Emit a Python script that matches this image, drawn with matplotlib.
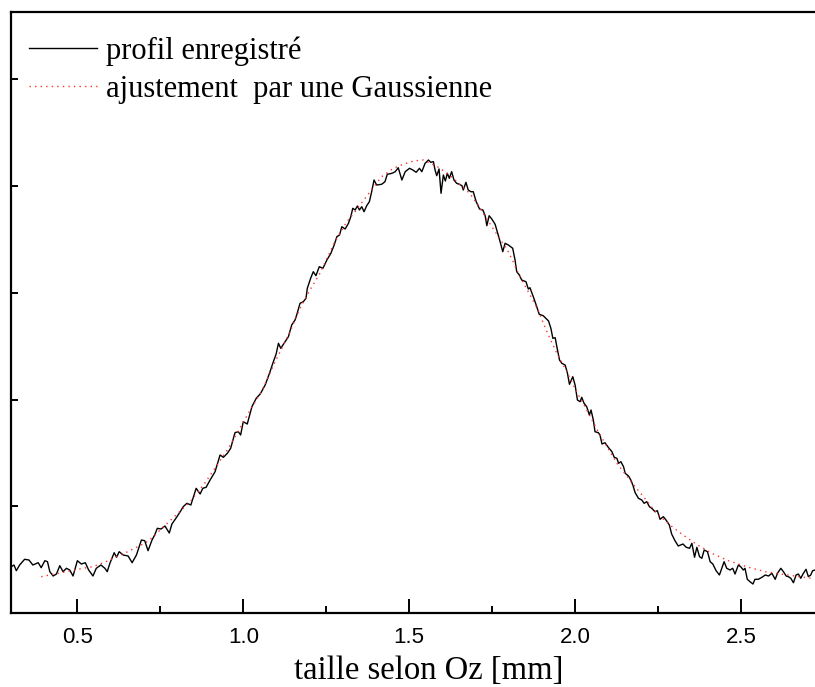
import matplotlib
matplotlib.use("Agg")
import matplotlib.pyplot as plt
from matplotlib.ticker import MultipleLocator

# ---- data: recorded profile (x in mm, intensity in arbitrary units) ----
profile_x = [
    0.301, 0.309, 0.316, 0.326, 0.341, 0.354, 0.366, 0.382, 0.391, 0.402, 0.410, 0.417, 0.427, 0.437,
    0.447, 0.457, 0.467, 0.477, 0.487, 0.500, 0.512, 0.524, 0.534, 0.547, 0.557, 0.571, 0.583, 0.590,
    0.598, 0.611, 0.618, 0.626, 0.638, 0.653, 0.665, 0.678, 0.693, 0.703, 0.713, 0.725, 0.733, 0.741,
    0.752, 0.764, 0.777, 0.785, 0.797, 0.810, 0.819, 0.830, 0.842, 0.850, 0.858, 0.870, 0.878, 0.888,
    0.900, 0.915, 0.930, 0.940, 0.952, 0.962, 0.975, 0.985, 0.992, 1.000, 1.012, 1.026, 1.039, 1.051,
    1.066, 1.079, 1.089, 1.099, 1.106, 1.113, 1.126, 1.136, 1.146, 1.156, 1.161, 1.171, 1.181, 1.189,
    1.193, 1.203, 1.211, 1.219, 1.229, 1.240, 1.252, 1.264, 1.274, 1.282, 1.290, 1.297, 1.307, 1.317,
    1.324, 1.330, 1.337, 1.344, 1.350, 1.357, 1.364, 1.372, 1.380, 1.387, 1.394, 1.402, 1.417, 1.427,
    1.434, 1.448, 1.458, 1.467, 1.478, 1.488, 1.501, 1.511, 1.521, 1.531, 1.538, 1.548, 1.558, 1.565,
    1.573, 1.578, 1.583, 1.590, 1.596, 1.603, 1.609, 1.615, 1.621, 1.628, 1.635, 1.643, 1.651, 1.659,
    1.663, 1.671, 1.678, 1.686, 1.693, 1.702, 1.712, 1.722, 1.729, 1.734, 1.741, 1.749, 1.759, 1.766,
    1.774, 1.782, 1.789, 1.799, 1.812, 1.819, 1.824, 1.832, 1.839, 1.852, 1.859, 1.864, 1.874, 1.882,
    1.892, 1.904, 1.920, 1.927, 1.933, 1.940, 1.945, 1.953, 1.960, 1.970, 1.977, 1.983, 1.993, 2.000,
    2.007, 2.015, 2.020, 2.027, 2.035, 2.043, 2.048, 2.055, 2.060, 2.070, 2.075, 2.081, 2.090, 2.100,
    2.111, 2.118, 2.126, 2.131, 2.138, 2.146, 2.151, 2.161, 2.168, 2.174, 2.181, 2.191, 2.201, 2.208,
    2.216, 2.224, 2.231, 2.241, 2.248, 2.256, 2.266, 2.274, 2.284, 2.291, 2.301, 2.311, 2.325, 2.335,
    2.345, 2.352, 2.360, 2.367, 2.375, 2.382, 2.389, 2.399, 2.407, 2.415, 2.425, 2.435, 2.442, 2.449,
    2.457, 2.467, 2.475, 2.482, 2.492, 2.499, 2.507, 2.512, 2.519, 2.527, 2.536, 2.542, 2.552, 2.563,
    2.573, 2.583, 2.593, 2.603, 2.610, 2.620, 2.628, 2.636, 2.643, 2.650, 2.658, 2.666, 2.673, 2.680,
    2.688, 2.696, 2.703, 2.710, 2.716, 2.723,
]
profile_y = [
    46.3, 48.0, 42.3, 48.0, 53.7, 53.0, 48.0, 50.3, 45.3, 52.3, 51.3, 41.3, 37.0, 39.0,
    47.3, 41.3, 44.7, 43.0, 37.0, 52.3, 49.0, 50.3, 43.0, 37.0, 44.7, 48.0, 44.7, 41.3,
    49.7, 60.3, 55.7, 61.3, 58.0, 57.0, 50.3, 58.0, 73.0, 72.3, 62.3, 73.0, 78.0, 84.7,
    84.0, 87.0, 80.0, 89.0, 94.7, 101.3, 106.3, 109.7, 108.0, 116.3, 124.7, 119.0, 124.7, 125.7,
    133.0, 141.3, 158.0, 155.7, 159.7, 164.7, 180.3, 181.3, 178.0, 191.3, 189.0, 206.3, 214.7, 219.0,
    228.0, 239.7, 249.7, 259.0, 269.7, 264.7, 271.3, 276.3, 288.0, 293.0, 298.0, 309.7, 311.3, 314.7,
    324.7, 334.7, 341.3, 337.3, 346.3, 344.7, 353.0, 359.7, 368.0, 376.3, 378.0, 386.3, 384.0, 389.7,
    396.3, 404.7, 403.0, 407.0, 403.0, 406.3, 401.3, 407.3, 411.3, 421.3, 433.0, 428.0, 428.7, 431.3,
    438.7, 439.7, 441.3, 445.3, 433.0, 441.3, 444.7, 443.0, 440.7, 444.7, 441.3, 449.7, 453.0, 450.7,
    451.3, 443.0, 437.3, 444.0, 419.7, 438.0, 432.0, 439.7, 434.7, 441.3, 433.0, 429.7, 428.7, 427.3,
    423.0, 430.7, 423.0, 421.3, 421.3, 411.3, 404.0, 403.0, 397.3, 387.3, 397.3, 394.0, 388.7, 380.7,
    371.3, 361.3, 369.7, 368.0, 364.7, 353.0, 341.3, 338.0, 333.0, 331.3, 324.0, 325.3, 316.3, 308.7,
    298.7, 297.3, 292.0, 284.7, 274.7, 275.3, 266.3, 253.0, 249.7, 248.0, 239.7, 228.7, 236.3, 228.0,
    213.0, 211.3, 215.7, 209.7, 206.3, 198.0, 203.0, 193.0, 181.3, 180.3, 178.0, 169.0, 170.3, 165.7,
    161.3, 155.7, 154.7, 149.7, 151.3, 146.3, 139.7, 137.0, 133.0, 128.0, 120.3, 114.7, 113.0, 109.7,
    111.3, 106.3, 104.7, 101.3, 102.3, 93.7, 96.3, 93.0, 88.0, 79.0, 72.3, 67.0, 69.0, 65.7,
    64.7, 69.7, 55.7, 65.7, 56.3, 54.7, 63.0, 61.3, 51.3, 49.0, 42.3, 38.0, 44.7, 51.3,
    44.7, 43.0, 44.7, 39.0, 48.0, 46.3, 43.0, 44.7, 33.7, 31.3, 29.0, 33.7, 33.7, 35.7,
    38.0, 37.0, 39.7, 33.7, 39.7, 44.7, 41.3, 37.0, 36.3, 34.7, 30.3, 38.0, 39.0, 34.7,
    39.7, 43.7, 36.3, 38.0, 42.3, 43.0,
]

# ---- data: Gaussian fit ----
fit_x = [
    0.391, 0.467, 0.517, 0.547, 0.593, 0.623, 0.658, 0.678, 0.703, 0.723, 0.840, 0.885, 0.955, 1.021,
    1.056, 1.076, 1.096, 1.111, 1.141, 1.171, 1.201, 1.231, 1.276, 1.312, 1.337, 1.367, 1.417, 1.452,
    1.482, 1.513, 1.543, 1.591, 1.633, 1.682, 1.704, 1.749, 1.796, 1.811, 1.831, 1.856, 1.886, 1.917,
    1.945, 1.975, 2.003, 2.035, 2.067, 2.083, 2.126, 2.181, 2.206, 2.246, 2.286, 2.321, 2.367, 2.412,
    2.462, 2.523, 2.573, 2.648, 2.712,
]
fit_y = [
    36.3, 41.3, 44.7, 46.3, 52.3, 57.0, 62.3, 65.7, 69.7, 74.7, 111.3, 130.3, 164.7, 203.0,
    222.3, 236.3, 251.3, 261.3, 281.3, 304.7, 323.0, 339.7, 371.3, 391.3, 401.3, 414.7, 436.3, 444.7,
    448.7, 452.0, 453.0, 445.3, 434.7, 419.7, 409.7, 386.3, 363.0, 353.0, 338.0, 323.0, 304.7, 279.7,
    259.7, 241.3, 222.3, 203.0, 183.0, 173.7, 149.7, 126.3, 116.3, 99.7, 88.0, 79.0, 68.5, 59.7,
    52.3, 45.7, 41.3, 37.7, 34.7,
]

series_labels = ["profil enregistré", "ajustement  par une Gaussienne"]
x_label = "taille selon Oz [mm]"
x_ticks = [0.5, 1.0, 1.5, 2.0, 2.5]
x_tick_labels = ["0.5", "1.0", "1.5", "2.0", "2.5"]
y_ticks = [106.75, 213.5, 320.25, 427.0, 533.75]

# ---- figure ----
W, H = 815, 687
fig = plt.figure(figsize=(W / 100, H / 100), dpi=100)
ax = fig.add_axes([11 / W, (H - 613) / H, 1 - 11 / W, (613 - 12) / H])

ax.plot(profile_x, profile_y, color="black", lw=1.0, label=series_labels[0])
ax.plot(fit_x, fit_y, color="#ff3030", lw=1.0, ls=(0, (1, 3)), label=series_labels[1])

ax.set_xlim(0.300, 2.723)
ax.set_ylim(0, 601)

for s in ["left", "bottom", "top"]:
    ax.spines[s].set_linewidth(1.6)
ax.spines["right"].set_visible(False)

ax.set_xticks(x_ticks)
ax.set_xticklabels(x_tick_labels, fontfamily="Liberation Sans", fontsize=16)
ax.xaxis.set_minor_locator(MultipleLocator(0.25))
ax.tick_params(axis="x", which="major", direction="in", length=10, width=1.4, pad=10)
ax.tick_params(axis="x", which="minor", direction="in", length=5, width=1.4)
ax.set_yticks(y_ticks)
ax.set_yticklabels([])
ax.tick_params(axis="y", which="major", direction="in", length=5, width=1.4)
ax.tick_params(top=False, right=False)

ax.set_xlabel(x_label, fontfamily="Liberation Serif", fontsize=23.5)
ax.xaxis.set_label_coords(0.519, -0.070)

leg = ax.legend(loc="upper left", bbox_to_anchor=(0.0, 0.99), frameon=False,
                prop={"family": "Liberation Serif", "size": 22},
                handlelength=2.2, handletextpad=0.3, labelspacing=0.3,
                borderaxespad=0.2, borderpad=0.4)

fig.savefig("out.png", dpi=100)
